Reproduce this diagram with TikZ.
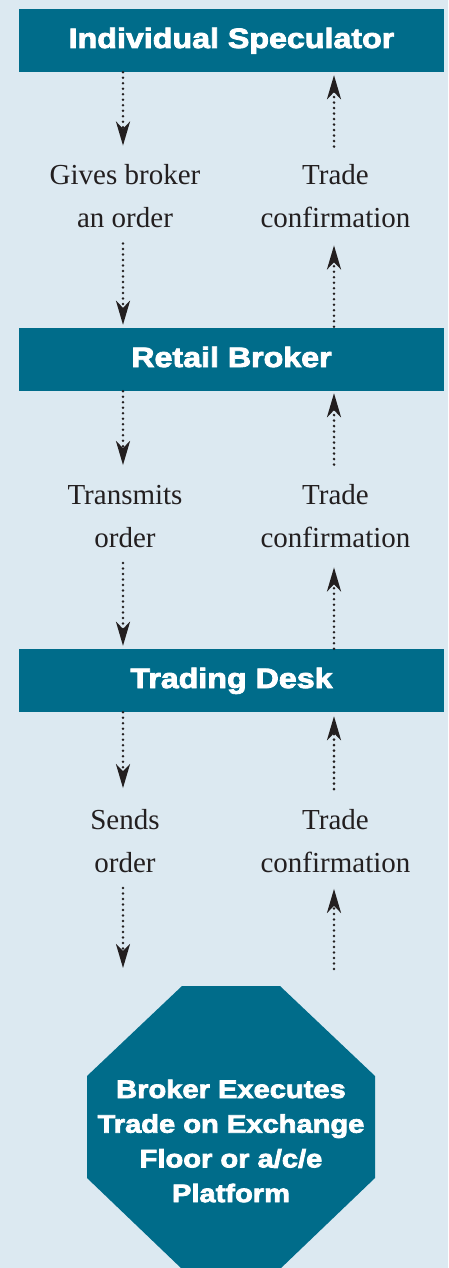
\documentclass[tikz,border=0pt]{standalone}
\usepackage{fontspec}
\setmainfont{Liberation Serif}
\newfontfamily\hfont{Liberation Sans}[FakeStretch=1.15,BoldFeatures={FakeBold=3}]
\usetikzlibrary{arrows.meta}
\definecolor{bgblue}{HTML}{DCE9F1}
\definecolor{boxteal}{HTML}{006C8A}
\definecolor{ink}{HTML}{231F20}
\begin{document}
\begin{tikzpicture}[x=1pt,y=-1pt,
  box/.style={fill=boxteal, minimum width=425pt, minimum height=63pt, inner sep=0pt, text=white,
    font=\hfont\bfseries\fontsize{28}{30}\selectfont, text height=15pt, text depth=0pt},
  lab/.style={align=center, inner sep=0pt, text=ink, font=\fontsize{29}{43}\selectfont},
  flow/.style={draw=ink, line width=2.8pt, line cap=round, dash pattern=on 0pt off 5.5pt,
    -{Stealth[length=24pt,width=14pt,inset=7pt]}},
  octtext/.style={text=white, align=center, inner sep=0pt,
    font=\hfont\bfseries\fontsize{25.3}{34.7}\selectfont}
]
\useasboundingbox (0,0) rectangle (448,1268);
\clip (0,0) rectangle (448,1268);
\fill[bgblue] (0,0) rectangle (448,1268);

\coordinate (cl) at (123,0);
\coordinate (cr) at (334,0);

\node[box] (b1) at (231.5,40.5) {Individual Speculator};
\node[box] (b2) at (231.5,359.5) {Retail Broker};
\node[box] (b3) at (231.5,680.5) {Trading Desk};

\node[lab] (g1) at (125,196.5) {Gives broker\\an order};
\node[lab] (c1) at (335.5,196.5) {Trade\\confirmation};
\node[lab] (g2) at (125,516.5) {Transmits\\order};
\node[lab] (c2) at (335.5,516.5) {Trade\\confirmation};
\node[lab] (g3) at (125,841) {Sends\\order};
\node[lab] (c3) at (335.5,841) {Trade\\confirmation};

\fill[boxteal] (182,986) -- (280,986) -- (375,1076) -- (375,1178) -- (280,1269)
  -- (182,1269) -- (87,1178) -- (87,1076) -- cycle;
\node[octtext] (oct) at (231,1141) {Broker Executes\\Trade on Exchange\\Floor or a/c/e\\Platform};

\coordinate (e1) at (123,968);
\coordinate (e2) at (334,969);

% orders down
\draw[flow, shorten >=19pt] (b1.south -| cl) -- (g1.north -| cl);
\draw[flow, shorten <=15pt, shorten >=3pt] (g1.south -| cl) -- (b2.north -| cl);
\draw[flow, shorten >=20pt] (b2.south -| cl) -- (g2.north -| cl);
\draw[flow, shorten <=15pt, shorten >=3pt] (g2.south -| cl) -- (b3.north -| cl);
\draw[flow, shorten >=21pt] (b3.south -| cl) -- (g3.north -| cl);
\draw[flow, shorten <=15pt] (g3.south -| cl) -- (e1);
% confirmations up
\draw[flow, shorten <=18pt, shorten >=3pt] (c1.north -| cr) -- (b1.south -| cr);
\draw[flow, shorten <=1pt, shorten >=17pt] (b2.north -| cr) -- (c1.south -| cr);
\draw[flow, shorten <=20pt, shorten >=2pt] (c2.north -| cr) -- (b2.south -| cr);
\draw[flow, shorten >=19pt] (b3.north -| cr) -- (c2.south -| cr);
\draw[flow, shorten <=20pt, shorten >=4pt] (c3.north -| cr) -- (b3.south -| cr);
\draw[flow, shorten >=16pt] (e2) -- (c3.south -| cr);
\end{tikzpicture}
\end{document}
